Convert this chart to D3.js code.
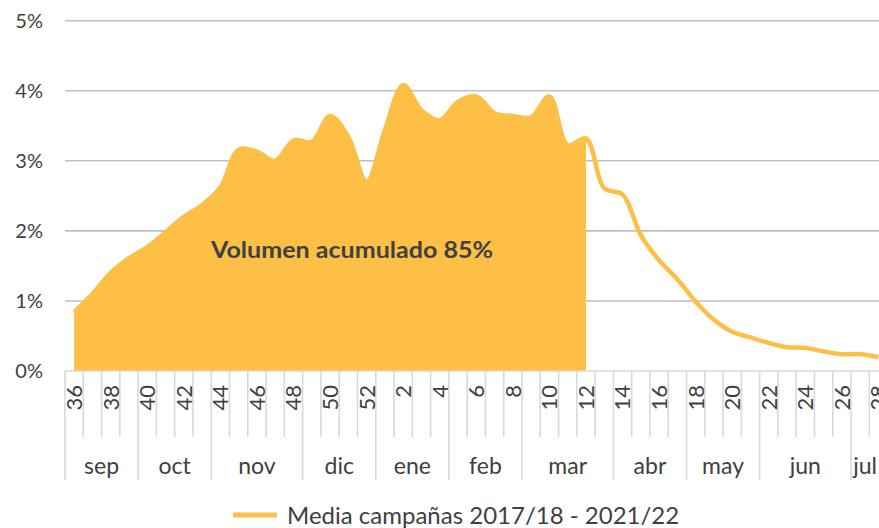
<!DOCTYPE html>
<html>
<head>
<meta charset="utf-8">
<script src="https://cdn.jsdelivr.net/npm/d3@7"></script>
<style>
  html, body { margin: 0; padding: 0; background: #fff; }
  svg { display: block; }
  text { font-family: "Lato", "Noto Sans", sans-serif; fill: #404040; }
</style>
</head>
<body>
<svg id="chart" width="879" height="528"></svg>
<script>
// ---- data ----
const weeks = [36,37,38,39,40,41,42,43,44,45,46,47,48,49,50,51,52,
               1,2,3,4,5,6,7,8,9,10,11,12,13,14,15,16,17,18,19,20,21,22,23,24,25,26,27,28];
const values = [0.84,1.10,1.40,1.61,1.77,1.98,2.20,2.37,2.62,3.16,3.13,3.00,3.29,3.27,3.64,3.34,2.70,
                3.44,4.08,3.72,3.58,3.84,3.92,3.68,3.64,3.62,3.92,3.22,3.32,2.61,2.52,1.94,1.58,1.31,
                0.99,0.73,0.56,0.48,0.40,0.34,0.33,0.28,0.24,0.24,0.20];
const filledUntilWeek = 12;
const months = ["sep","oct","nov","dic","ene","feb","mar","abr","may","jun","jul"];
const monthWeekCounts = [4,4,5,4,4,4,5,4,4,5,4];
const yTicks = [0,1,2,3,4,5];
const seriesName = "Media campañas 2017/18 - 2021/22";
const annotation = "Volumen acumulado 85%";

// ---- layout ----
const W = 879, H = 528;
const left = 65, step = 18.28;
const y0 = 371, yTop = 20.7;
const color = "#FDBF45";

const svg = d3.select("#chart");

const x = d3.scaleBand()
  .domain(weeks.map(String))
  .range([left, left + weeks.length * step])
  .padding(0);
const cx = w => x(String(w)) + x.bandwidth() / 2;
const y = d3.scaleLinear().domain([0, 5]).range([y0, yTop]);

// gridlines
svg.append("g").selectAll("line")
  .data(yTicks.filter(d => d > 0))
  .join("line")
  .attr("x1", left).attr("x2", W)
  .attr("y1", d => y(d)).attr("y2", d => y(d))
  .attr("stroke", "#BFBFBF").attr("stroke-width", 1.6);

// y labels
svg.append("g").selectAll("text")
  .data(yTicks)
  .join("text")
  .attr("x", 43)
  .attr("y", d => y(d))
  .attr("dy", "0.36em")
  .attr("text-anchor", "end")
  .attr("font-size", 20)
  .text(d => d + "%");

const data = weeks.map((w, i) => ({ w, v: values[i] }));
const fillIdx = weeks.indexOf(filledUntilWeek);
const curve = d3.curveCatmullRom.alpha(0.5);

// area (cumulated volume)
const area = d3.area()
  .x(d => cx(d.w))
  .y0(y(0))
  .y1(d => y(d.v))
  .curve(curve);
svg.append("path")
  .datum(data.slice(0, fillIdx + 1))
  .attr("d", area)
  .attr("fill", color);

// line
const line = d3.line()
  .x(d => cx(d.w))
  .y(d => y(d.v))
  .curve(curve);
svg.append("path")
  .datum(data)
  .attr("d", line)
  .attr("fill", "none")
  .attr("stroke", color)
  .attr("stroke-width", 4.5)
  .attr("stroke-linejoin", "round");

// x axis baseline
svg.append("line")
  .attr("x1", left).attr("x2", W)
  .attr("y1", y0).attr("y2", y0)
  .attr("stroke", "#D9D9D9").attr("stroke-width", 1.6);

// month boundaries
const monthStarts = [];
let acc = 0;
monthWeekCounts.forEach(c => { monthStarts.push(acc); acc += c; });
const monthStartSet = new Set(monthStarts);

// week ticks
const boundaries = d3.range(weeks.length + 1);
svg.append("g").selectAll("line")
  .data(boundaries)
  .join("line")
  .attr("x1", i => left + i * x.step())
  .attr("x2", i => left + i * x.step())
  .attr("y1", y0)
  .attr("y2", i => monthStartSet.has(i) ? 480 : 437)
  .attr("stroke", "#D9D9D9").attr("stroke-width", 1.6);

// week labels (every second week)
svg.append("g").selectAll("text")
  .data(weeks.filter((w, i) => i % 2 === 0))
  .join("text")
  .attr("transform", w => `translate(${cx(w)},385) rotate(-90)`)
  .attr("text-anchor", "end")
  .attr("dy", "0.36em")
  .attr("font-size", 22)
  .text(w => w);

// month labels (centred in the visible part of each month)
svg.append("g").selectAll("text")
  .data(months)
  .join("text")
  .attr("x", (m, i) => {
    const a = left + monthStarts[i] * x.step();
    const b = Math.min(left + (monthStarts[i] + monthWeekCounts[i]) * x.step(), W);
    return (a + b) / 2;
  })
  .attr("y", 474)
  .attr("text-anchor", "middle")
  .attr("font-size", 23)
  .text(m => m);

// annotation
svg.append("text")
  .attr("x", 211)
  .attr("y", 258)
  .attr("font-size", 22)
  .attr("font-weight", "bold")
  .attr("textLength", 282)
  .attr("lengthAdjust", "spacingAndGlyphs")
  .text(annotation);

// legend
svg.append("line")
  .attr("x1", 233).attr("x2", 277)
  .attr("y1", 515).attr("y2", 515)
  .attr("stroke", color).attr("stroke-width", 5);
svg.append("text")
  .attr("x", 287)
  .attr("y", 523.5)
  .attr("font-size", 24)
  .text(seriesName);
</script>
</body>
</html>
